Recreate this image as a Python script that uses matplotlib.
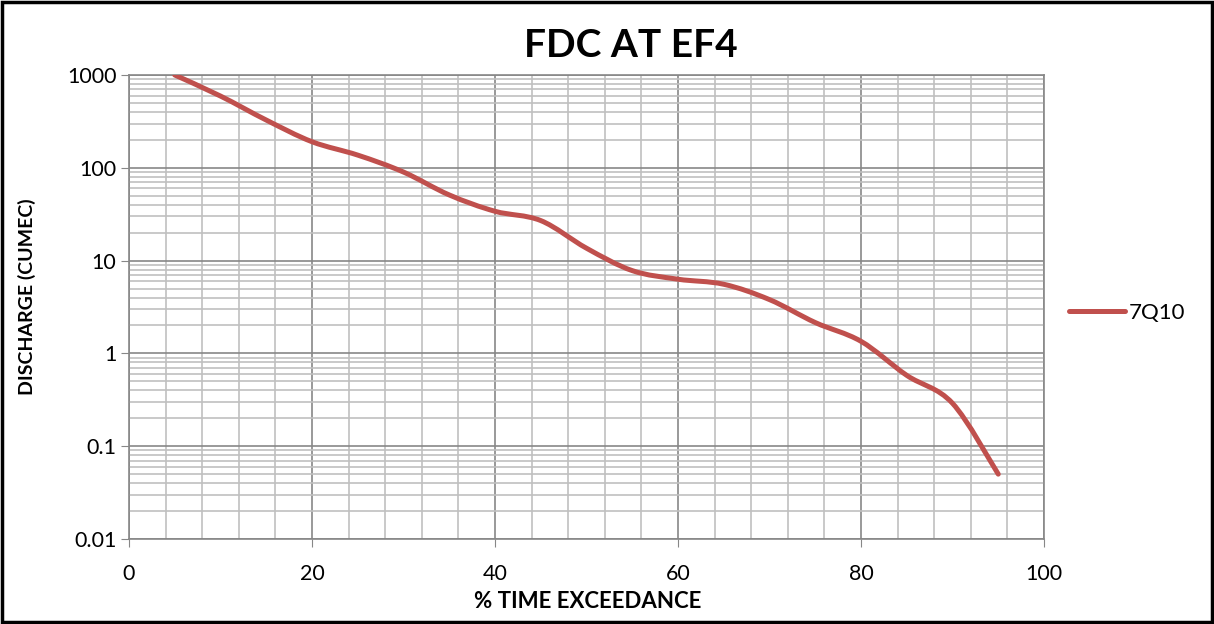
import numpy as np
import matplotlib
matplotlib.use("Agg")
import matplotlib.pyplot as plt
from matplotlib.ticker import FixedLocator, FuncFormatter, LogLocator, NullFormatter
from matplotlib.patches import Rectangle, PathPatch
from matplotlib.path import Path
from matplotlib.lines import Line2D

plt.rcParams['font.family'] = ['Lato', 'DejaVu Sans']

# data
exceedance = [5, 10, 15, 20, 25, 30, 35, 40, 45, 50, 55, 60, 65, 70, 75, 80, 85, 90, 95]
discharge = [1000, 593, 327, 191, 137, 90, 51, 34, 27, 13.6, 7.8, 6.3, 5.56, 3.8, 2.15, 1.35, 0.58, 0.29, 0.05]
series_name = "7Q10"
line_color = '#C0504D'


def smooth_path(xs, ys):
    # excel-like smoothed line: catmull-rom bezier in (x, log y) space
    px = np.array(xs, float)
    py = np.log10(np.array(ys, float))
    verts = [(px[0], py[0])]
    codes = [Path.MOVETO]
    n = len(px)
    for i in range(n - 1):
        i0 = max(i - 1, 0)
        i3 = min(i + 2, n - 1)
        c1 = (px[i] + (px[i + 1] - px[i0]) / 6, py[i] + (py[i + 1] - py[i0]) / 6)
        c2 = (px[i + 1] - (px[i3] - px[i]) / 6, py[i + 1] - (py[i3] - py[i]) / 6)
        verts += [c1, c2, (px[i + 1], py[i + 1])]
        codes += [Path.CURVE4] * 3
    verts = [(vx, 10 ** vy) for vx, vy in verts]
    return Path(verts, codes)


fig = plt.figure(figsize=(12.14, 6.24), dpi=100)
ax = fig.add_axes([129 / 1214, 1 - 539 / 624, (1044 - 129) / 1214, (539 - 75) / 624])

ax.set_yscale('log')
ax.set_ylim(0.01, 1000)
ax.set_xlim(0, 100)

patch = PathPatch(smooth_path(exceedance, discharge), facecolor='none', edgecolor=line_color,
                  lw=3.6, joinstyle='round', capstyle='round', zorder=3)
ax.add_patch(patch)

ax.xaxis.set_major_locator(FixedLocator([0, 20, 40, 60, 80, 100]))
ax.xaxis.set_minor_locator(FixedLocator(np.arange(0, 101, 4)))
ax.yaxis.set_major_locator(LogLocator(base=10, numticks=10))
ax.yaxis.set_minor_locator(LogLocator(base=10, subs=np.arange(2, 10), numticks=20))
ax.yaxis.set_major_formatter(FuncFormatter(lambda v, p: f"{v:g}"))
ax.yaxis.set_minor_formatter(NullFormatter())

ax.grid(which='major', color='#878787', lw=1.2)
ax.grid(which='minor', color='#C0C0C0', lw=1.2)
ax.set_axisbelow(True)

for s in ax.spines.values():
    s.set_color('#878787')
    s.set_linewidth(1.2)

ax.tick_params(which='major', length=6, color='#878787', labelsize=15.5)
ax.tick_params(axis='y', pad=3)
ax.tick_params(axis='x', pad=12)
ax.tick_params(which='minor', length=0)

fig.text(631 / 1214, 1 - 45.5 / 624, "FDC AT EF4", fontsize=28, fontweight='bold',
         ha='center', va='center')
ax.set_xlabel("% TIME EXCEEDANCE", fontsize=16, fontweight='bold', va='center')
ax.set_ylabel("DISCHARGE (CUMEC)", fontsize=14, fontweight='bold', va='center')
ax.xaxis.set_label_coords((588 - 129) / 915, (539 - 602) / 464)
ax.yaxis.set_label_coords((27 - 129) / 915, (539 - 297) / 464)

handle = Line2D([], [], color=line_color, lw=3.6, solid_capstyle='round')
fig.legend([handle], [series_name], loc='center left', bbox_to_anchor=(1049 / 1214, 1 - 313 / 624),
           frameon=False, fontsize=16, handlelength=2.5, handletextpad=0.2)

fig.patches.append(Rectangle((0.002, 0.003), 0.996, 0.994, transform=fig.transFigure,
                             fill=False, edgecolor='black', lw=2.5))

fig.savefig("out.png", dpi=100)
